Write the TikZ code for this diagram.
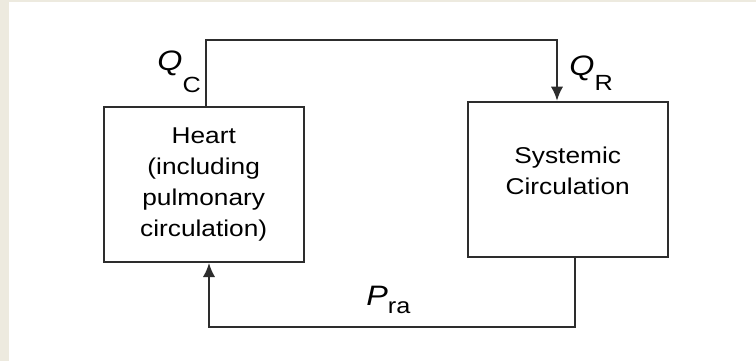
\documentclass[tikz,border=0pt]{standalone}
\usepackage{fontspec}
\setmainfont[FakeStretch=1.15]{Liberation Sans}
\usetikzlibrary{arrows.meta}
\definecolor{paper}{RGB}{237,234,223}
\definecolor{ink}{RGB}{45,45,45}
\newcommand{\qsym}[1]{{\fontsize{16}{18}\selectfont\itshape #1}}
\tikzset{
  block/.style={draw=ink, line width=1.1pt, minimum width=4cm, minimum height=3.1cm,
    align=center, font=\fontsize{13}{17.6}\selectfont},
  flow/.style={draw=ink, line width=1.1pt, >={Latex[length=8pt,width=7pt]}},
  lab/.style={anchor=base west, inner sep=0pt, font=\fontsize{12.5}{14}\selectfont}
}
\begin{document}
\begin{tikzpicture}[x=0.02cm, y=-0.02cm]
\fill[white] (0,0) rectangle (756,361);
\fill[paper] (0,0) rectangle (9,361);
\fill[paper] (0,0) rectangle (756,2);

\node[block] (heart) at (203.7,184.5) {Heart\\(including\\pulmonary\\circulation)};
\node[block, text depth=10pt] (sys) at (567.7,179.2) {Systemic\\Circulation};

\coordinate (qc) at (206,40);
\coordinate (qr) at (557,40);
\coordinate (pr) at (575,327);
\coordinate (pl) at (209,327);

\draw[flow,->] (qc |- heart.north) -- (qc) -- (qr) -- (qr |- sys.north);
\draw[flow,->] (pr |- sys.south) -- (pr) -- (pl) -- (pl |- heart.south);

\node[lab] (qclab) at (157,71) {\qsym{Q}\raisebox{-12pt}{C}};
\node[lab] (qrlab) at (569,76) {\qsym{Q}\raisebox{-8pt}{R}};
\node[lab] (pralab) at (366,305) {\qsym{P}\raisebox{-4.6pt}{ra}};
\end{tikzpicture}
\end{document}
